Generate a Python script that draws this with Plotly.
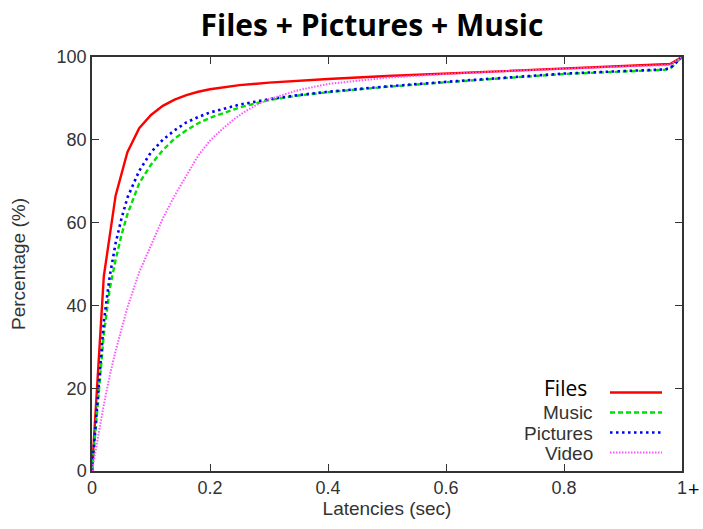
import plotly.graph_objects as go

# Latency CDF samples (x in seconds, y in percent)
files_x = [0, 0.008, 0.014, 0.02, 0.04, 0.06, 0.08, 0.10, 0.12, 0.14, 0.16, 0.18, 0.20,
           0.25, 0.30, 0.35, 0.40, 0.50, 0.60, 0.70, 0.80, 0.90, 0.97, 0.98, 1.0]
files_y = [0, 20, 34, 47, 66.5, 77, 82.8, 86.0, 88.2, 89.7, 90.8, 91.6, 92.2,
           93.2, 93.8, 94.3, 94.7, 95.4, 96.0, 96.7, 97.3, 97.8, 98.2, 98.3, 100]

music_x = [0, 0.005, 0.01, 0.02, 0.03, 0.04, 0.05, 0.06, 0.08, 0.10, 0.12, 0.14, 0.16, 0.18, 0.20,
           0.25, 0.30, 0.35, 0.40, 0.50, 0.60, 0.70, 0.80, 0.90, 0.97, 0.98, 1.0]
music_y = [0, 8, 17, 33, 44, 51, 57, 62, 69.5, 74, 77.5, 80.3, 82.3, 84, 85.3,
           87.8, 89.6, 90.7, 91.5, 92.8, 93.9, 94.9, 95.9, 96.5, 96.9, 97.2, 100]

pictures_x = [0, 0.005, 0.01, 0.02, 0.03, 0.04, 0.05, 0.06, 0.08, 0.10, 0.12, 0.14, 0.16, 0.18, 0.20,
              0.25, 0.30, 0.35, 0.40, 0.50, 0.60, 0.70, 0.80, 0.90, 0.97, 0.98, 1.0]
pictures_y = [0, 9, 19, 36, 47, 55, 61, 66, 72.5, 77, 80, 82.3, 84.2, 85.5, 86.6,
              88.5, 89.8, 90.8, 91.6, 92.9, 94.0, 95.0, 96.0, 96.6, 97.0, 97.3, 100]

video_x = [0, 0.01, 0.02, 0.03, 0.04, 0.06, 0.08, 0.10, 0.12, 0.14, 0.16, 0.18, 0.20,
           0.22, 0.24, 0.26, 0.28, 0.30, 0.35, 0.40, 0.50, 0.60, 0.70, 0.80, 0.90, 0.97, 0.98, 1.0]
video_y = [0, 8.5, 16, 23, 29, 39.5, 48, 54.5, 61, 66.5, 71.5, 76.2, 79.8,
           82.5, 84.9, 86.9, 88.5, 89.8, 92.0, 93.5, 95.0, 95.9, 96.6, 97.2, 97.7, 98.0, 98.1, 100]

x_tickvals = [0, 0.2, 0.4, 0.6, 0.8, 1.0]
x_ticktext = ["0", "0.2", "0.4", "0.6", "0.8", "1"]
y_tickvals = [0, 20, 40, 60, 80, 100]

series = [
    ("Files", files_x, files_y, "#ff0000", 2.4, "solid"),
    ("Music", music_x, music_y, "#00e000", 2.4, "5px,3px"),
    ("Pictures", pictures_x, pictures_y, "#0000ff", 2.6, "2.5px,3.5px"),
    ("Video", video_x, video_y, "#ff55ff", 2.0, "1.5px,1.5px"),
]

ARIAL = "Arial, 'Liberation Sans', sans-serif"
GREY = "#333333"

fig = go.Figure()
for name, xs, ys, color, width, dash in series:
    fig.add_trace(go.Scatter(x=xs, y=ys, mode="lines", name=name,
                             line=dict(color=color, width=width, dash=dash),
                             showlegend=False))

L, R, T, B = 92, 21, 57, 58
W, H = 703, 529
pw, ph = W - L - R, H - T - B

def px_x(px):
    return (px - L) / pw

def px_y(py):
    return (H - B - py) / ph

# Key in the lower right: labels right-aligned, line samples to their right
key_rows = [
    ("Files", 388, 392.5, "#000000", 21, "'Open Sans', Lato, sans-serif"),
    ("Music", 412, 412.5, GREY, 19, ARIAL),
    ("Pictures", 433, 432.5, GREY, 19, ARIAL),
    ("Video", 453, 452.5, GREY, 19, ARIAL),
]
for (label, ty, ly, tcol, tsize, tfont), s in zip(key_rows, series):
    right = 589 if label == "Files" else 595
    fig.add_annotation(x=px_x(right), y=px_y(ty), xref="paper", yref="paper",
                       text=label, showarrow=False, xanchor="right", yanchor="middle",
                       font=dict(family=tfont, size=tsize, color=tcol))
    fig.add_shape(type="line", xref="paper", yref="paper",
                  x0=px_x(610), x1=px_x(662), y0=px_y(ly), y1=px_y(ly),
                  line=dict(color=s[3], width=s[4], dash=s[5]))

# "+" marker after the last x tick label (open-ended final bin)
fig.add_annotation(x=px_x(694), y=px_y(488), xref="paper", yref="paper",
                   text="+", showarrow=False, xanchor="center", yanchor="middle",
                   borderpad=0,
                   font=dict(family="'Open Sans', sans-serif", size=20, color="#000000"))

axis_common = dict(showline=True, linecolor=GREY, linewidth=1.5, mirror="ticks",
                   ticks="inside", ticklen=7, tickcolor=GREY, tickwidth=1.2,
                   showgrid=False, zeroline=False,
                   tickfont=dict(family=ARIAL, size=18, color=GREY))

fig.update_layout(
    width=W, height=H,
    margin=dict(l=L, r=R, t=T, b=B),
    paper_bgcolor="white", plot_bgcolor="white",
    title=dict(text="<b>Files + Pictures + Music</b>", x=372 / W, xanchor="center",
               y=1 - 25 / H, yanchor="middle",
               font=dict(family="'Open Sans', Lato, sans-serif", size=30, color="#000000")),
    xaxis=dict(range=[0, 1], tickvals=x_tickvals, ticktext=x_ticktext,
               title=dict(text="Latencies (sec)", standoff=4,
                          font=dict(family=ARIAL, size=19, color=GREY)),
               **axis_common),
    yaxis=dict(range=[0, 100], tickvals=y_tickvals,
               title=dict(text="Percentage (%)", standoff=26,
                          font=dict(family=ARIAL, size=19, color=GREY)),
               **axis_common),
)

fig.write_html("out.html")
